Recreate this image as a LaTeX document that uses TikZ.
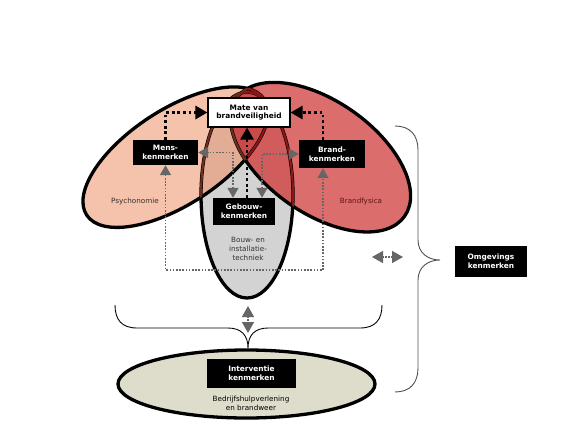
\documentclass[tikz,border=0pt]{standalone}
\usepackage{fontspec}
\setmainfont{DejaVu Sans}
\usetikzlibrary{arrows.meta}
\definecolor{cPink}{HTML}{F5C2AB}
\definecolor{cPinkD}{HTML}{E2AC95}
\definecolor{cRed}{HTML}{DB6D6D}
\definecolor{cRedD}{HTML}{D15C5C}
\definecolor{cRedDD}{HTML}{C94A4A}
\definecolor{cGray}{HTML}{D3D3D3}
\definecolor{cBeige}{HTML}{DEDCCB}
\definecolor{cBrown}{HTML}{6E2E1E}
\definecolor{cMaroon}{HTML}{8A1616}
\definecolor{cArrow}{HTML}{666666}
\definecolor{cBrace}{HTML}{505050}
\definecolor{cTxt}{HTML}{3A3030}
\definecolor{cTxtR}{HTML}{5E1515}
\begin{document}
\begin{tikzpicture}[x=1pt,y=-1pt,
  kbox/.style={fill=black,text=white,font=\bfseries\fontsize{7.4}{8.8}\selectfont,align=center,inner sep=0pt},
  wbox/.style={draw=black,line width=1.1pt,fill=white,text=black,font=\bfseries\fontsize{7.4}{8.8}\selectfont,align=center,inner sep=0pt},
  lbl/.style={font=\fontsize{7.2}{9.2}\selectfont,align=center,inner sep=0pt,text=cTxt},
  ol/.style={draw=black,line width=3.3pt},
  il/.style={line width=2.2pt},
  rotL/.style={rotate around={33.1:(176,158)}},
  rotR/.style={rotate around={-35.1:(320,158)}},
  blk/.style={draw=black,line width=2.8pt,dash pattern=on 2.8pt off 2.8pt,-{Triangle[length=12pt,width=13pt]}},
  gry/.style={draw=cArrow,line width=1.6pt,dash pattern=on 1.6pt off 1.6pt,{Triangle[length=10pt,width=11pt]}-{Triangle[length=10pt,width=11pt]}},
  dbl/.style={draw=cArrow,line width=1.4pt,dash pattern=on 1.4pt off 1.4pt,{Triangle[length=11pt,width=12pt]}-{Triangle[length=11pt,width=12pt]}},
  brc/.style={draw=black,line width=0.9pt},
]
\useasboundingbox (0,0) rectangle (567,442);
\def\EG{(247,195) ellipse [x radius=46, y radius=103]}
\def\EL{(176,157) ellipse [x radius=106, y radius=47.5]}
\def\ER{(320,157) ellipse [x radius=102.7, y radius=56.1]}
% fills
\fill[cGray] \EG;
\fill[cPink,rotL] \EL;
\begin{scope}\clip \EG; \fill[cPinkD,rotL] \EL; \end{scope}
\fill[cRed,rotR] \ER;
\begin{scope}\clip \EG; \fill[cRedD,rotR] \ER; \end{scope}
\begin{scope}\clip \EG; \clip[rotL] \EL; \fill[cRedDD,rotR] \ER; \end{scope}
% outlines
\draw[ol] \EG;
\draw[ol,rotL] \EL;
\draw[ol,rotR] \ER;
\begin{scope}\clip[rotL] \EL;
  \draw[il,cBrown] \EG;
  \draw[il,cBrown,rotR] \ER;
\end{scope}
\begin{scope}\clip[rotR] \ER;
  \draw[il,cMaroon] \EG;
  \draw[il,cMaroon,rotL] \EL;
\end{scope}
% bottom ellipse
\draw[ol,fill=cBeige] (246.5,384) ellipse [x radius=128.5, y radius=34];
% braces
\draw[brc] (115,305) .. controls (115,320) and (122,328) .. (137,328) -- (228,328)
  .. controls (241,328) and (248,335) .. (248,348)
  .. controls (248,335) and (255,328) .. (268,328) -- (360,328)
  .. controls (375,328) and (382,320) .. (382,305);
\draw[brc,draw=cBrace] (395,126) .. controls (410,126) and (418,135) .. (418,150) -- (418,240)
  .. controls (418,253) and (428,260) .. (440,260)
  .. controls (428,260) and (418,267) .. (418,280) -- (418,368)
  .. controls (418,383) and (410,392) .. (395,392);
% nodes
\node[wbox,minimum width=82pt,minimum height=29pt] (mate) at (249,112.5) {Mate van\\brandveiligheid};
\node[kbox,minimum width=65pt,minimum height=25pt] (mens) at (165.5,152.5) {Mens-\\kenmerken};
\node[kbox,minimum width=66pt,minimum height=28pt] (brand) at (332,154) {Brand-\\kenmerken};
\node[kbox,minimum width=62pt,minimum height=27pt] (geb) at (244,211.5) {Gebouw-\\kenmerken};
\node[kbox,minimum width=89pt,minimum height=29pt] (intv) at (251.5,373.5) {Interventie\\kenmerken};
\node[kbox,minimum width=72pt,minimum height=31pt] (omg) at (491,261.5) {Omgevings\\kenmerken};
\node[lbl] (psy) at (135,202) {Psychonomie};
\node[lbl,text=cTxtR] (bfy) at (361,202) {Brandfysica};
\node[lbl] (bouw) at (248,249) {Bouw- en\\installatie-\\techniek};
\node[lbl,text=black] (bhv) at (251,403) {Bedrijfshulpverlening\\en brandweer};
% helper coordinates
\coordinate (xm) at (247,0);
\coordinate (xl) at (233,0);
\coordinate (xr) at (262,0);
\coordinate (xb) at (323,0);
\coordinate (loop) at (245,270);
\coordinate (va1) at (248,306);
\coordinate (va2) at (248,333);
\coordinate (ha1) at (372,257);
\coordinate (ha2) at (403,257);
% black dotted arrows
\draw[blk] (mens.north) |- (mate.west);
\draw[blk] (xb |- brand.north) |- (mate.east);
\draw[blk] (xm |- geb.north) -- (xm |- mate.south);
% gray dotted arrows
\draw[gry] (xl |- geb.north) |- (mens.east);
\draw[gry] (xr |- geb.north) |- (brand.west);
\draw[gry] (mens.south) |- (loop) -| (xb |- brand.south);
\draw[dbl] (va1) -- (va2);
\draw[dbl] (ha1) -- (ha2);
\end{tikzpicture}
\end{document}
